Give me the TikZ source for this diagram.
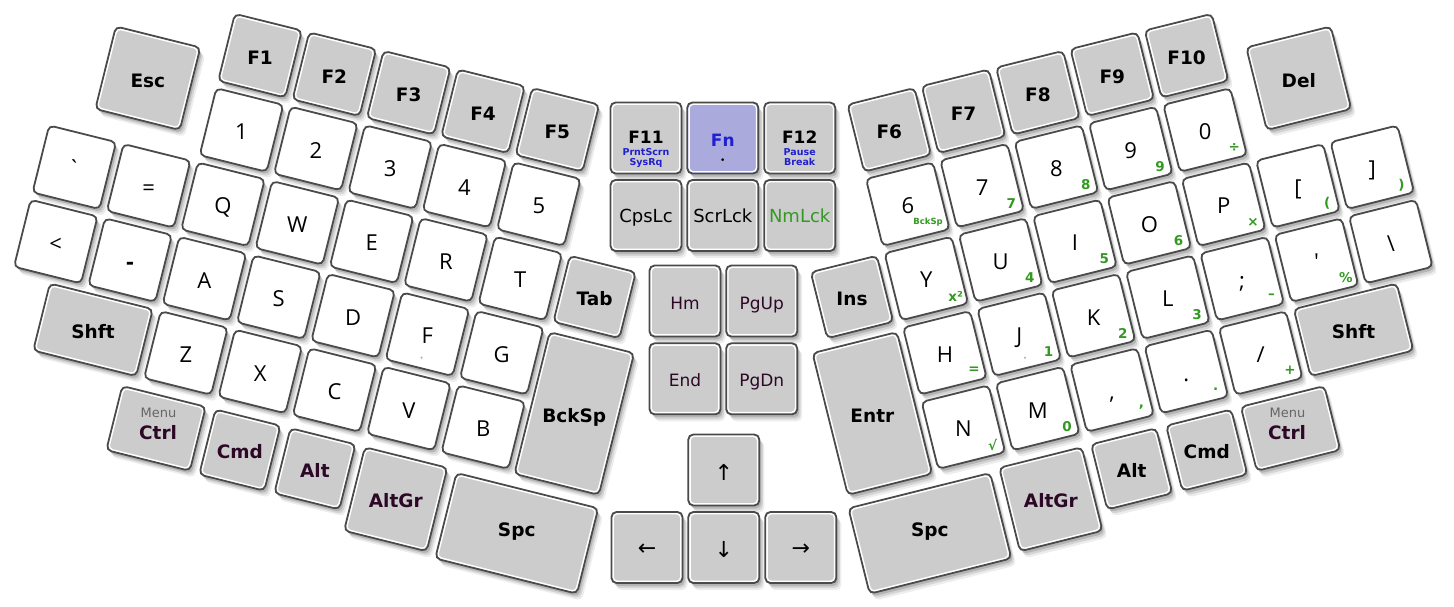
\documentclass[tikz,border=0pt]{standalone}
\usepackage{fontspec}
\setmainfont{DejaVu Sans}
\newfontfamily\keyfont{Open Sans}
\usetikzlibrary{calc,shadows}
\definecolor{kedge}{HTML}{4A4A4A}
\definecolor{kgray}{HTML}{CCCCCC}
\definecolor{kfn}{HTML}{AAAADD}
\definecolor{kpur}{HTML}{2D0826}
\definecolor{kgrn}{HTML}{339922}
\definecolor{kblue}{HTML}{2020D0}
\definecolor{kmenu}{HTML}{666666}
\tikzset{
  kshadow/.style={
    general shadow={fill=black, opacity=0.07, shadow xshift=5pt, shadow yshift=-7pt},
    general shadow={fill=black, opacity=0.10, shadow xshift=3.5pt, shadow yshift=-5pt},
    general shadow={fill=black, opacity=0.15, shadow xshift=2pt, shadow yshift=-3pt}},
  keyb/.style={draw=kedge, line width=1.8pt, rounded corners=5pt, inner sep=0pt, outer sep=0pt,
    minimum width=69pt, minimum height=69pt, kshadow},
  khl/.style={draw=white, line width=1.3pt, rounded corners=4pt, inner sep=0pt, outer sep=0pt},
  lt/.style={font=\keyfont\fontsize{22}{22}\selectfont, anchor=base, yshift=-9.5pt, inner sep=0pt},
  mb/.style={font=\bfseries\fontsize{18.5}{18.5}\selectfont, anchor=base, yshift=-8.8pt, inner sep=0pt},
  gl/.style={font=\bfseries\fontsize{13.5}{13.5}\selectfont, text=kgrn, inner sep=0pt},
  fb/.style={font=\bfseries\fontsize{17}{17}\selectfont, anchor=base, inner sep=0pt},
  sb/.style={font=\bfseries\fontsize{9.5}{9.5}\selectfont, text=kblue, anchor=base, inner sep=0pt},
  ct/.style={font=\fontsize{18}{18}\selectfont, anchor=base, yshift=-6.5pt, inner sep=0pt},
  nv/.style={font=\fontsize{17}{17}\selectfont, text=kpur, anchor=base, yshift=-8pt, inner sep=0pt},
  ar/.style={font=\fontsize{22}{22}\selectfont, yshift=-2pt, inner sep=0pt},
  mn/.style={font=\fontsize{13}{13}\selectfont, text=kmenu, anchor=base, inner sep=0pt},
  bump/.style={circle, fill=gray!60, inner sep=0pt, minimum size=2.4pt}
}
\newcommand\kang{0}
\newcommand\KG[5][kgray]{%
  \node[keyb, fill=#1, rotate=\kang, minimum width=#4pt, minimum height=#5pt] (#2) at #3 {};
  \node[khl, rotate=\kang, minimum width=#4pt-3.6pt, minimum height=#5pt-3.6pt] (#2-h) at (#2.center) {};}
\newcommand\KW[2]{\node[keyb, fill=white, rotate=\kang] (#1) at #2 {};}
\begin{document}
\begin{tikzpicture}[x=1pt, y=-1pt]
\path[fill=white, use as bounding box] (0,0) rectangle (1454,606);

% ---------------- left half ----------------
\begin{scope}[shift={(241.5,130)}, rotate=-14, x=76.6pt, y=-76.6pt]
\renewcommand\kang{-14}
\KG{esc}{(-1.35,-0.36)}{87}{85}
\KG{f1}{(0,-1)}{69}{69}
\KG{f2}{(1,-1)}{69}{69}
\KG{f3}{(2,-1)}{69}{69}
\KG{f4}{(3,-1)}{69}{69}
\KG{f5}{(4,-1)}{69}{69}
\KW{n1}{(0,0)} \KW{n2}{(1,0)} \KW{n3}{(2,0)} \KW{n4}{(3,0)} \KW{n5}{(4,0)}
\KW{lgrave}{(-2,1)} \KW{leq}{(-1,1)}
\KW{kq}{(0,1)} \KW{kw}{(1,1)} \KW{ke}{(2,1)} \KW{kr}{(3,1)} \KW{kt}{(4,1)}
\KG{ltab}{(5,1)}{68}{68}
\KW{llt}{(-2,2)} \KW{lminus}{(-1,2)}
\KW{ka}{(0,2)} \KW{ks}{(1,2)} \KW{kd}{(2,2)} \KW{kf}{(3,2)} \KW{kg}{(4,2)}
\KG{lshift}{(-1.25,3)}{106}{69}
\KW{kz}{(0,3)} \KW{kx}{(1,3)} \KW{kc}{(2,3)} \KW{kv}{(3,3)} \KW{kb}{(4,3)}
\KG{lbsp}{(5.11,2.54)}{87}{146}
\KG{lctrl}{(-0.14,4.05)}{86}{66}
\KG{lcmd}{(0.99,4.06)}{67}{67}
\KG{lalt}{(2.0,4.06)}{67}{67}
\KG{laltgr}{(3.12,4.19)}{85}{86}
\KG{lspc}{(4.76,4.24)}{146}{88}
\end{scope}

% ---------------- centre ----------------
\KG{f11}{(646,138)}{71}{71}
\KG[kfn]{fn}{(722.8,138)}{71}{71}
\KG{f12}{(799.7,138)}{71}{71}
\KG{caps}{(646,215.5)}{71}{71}
\KG{scrl}{(722.8,215.5)}{71}{71}
\KG{numl}{(799.7,215.5)}{71}{71}
\KG{home}{(685,301)}{71}{71}
\KG{pgup}{(761.7,301)}{71}{71}
\KG{kend}{(685,378.8)}{71}{71}
\KG{pgdn}{(761.7,378.8)}{71}{71}
\KG{up}{(723.8,470)}{71}{71}
\KG{left}{(647,547.5)}{71}{71}
\KG{down}{(723.8,547.5)}{71}{71}
\KG{right}{(800.8,547.5)}{71}{71}

% ---------------- right half ----------------
\begin{scope}[shift={(1205.1,130)}, rotate=14, x=-76.6pt, y=-76.6pt]
\renewcommand\kang{14}
\KG{f6}{(4,-1)}{69}{69}
\KG{f7}{(3,-1)}{69}{69}
\KG{f8}{(2,-1)}{69}{69}
\KG{f9}{(1,-1)}{69}{69}
\KG{f10}{(0,-1)}{69}{69}
\KG{del}{(-1.35,-0.36)}{87}{85}
\KW{n6}{(4,0)} \KW{n7}{(3,0)} \KW{n8}{(2,0)} \KW{n9}{(1,0)} \KW{n0}{(0,0)}
\KG{rins}{(5,1)}{68}{68}
\KW{ry}{(4,1)} \KW{ru}{(3,1)} \KW{ri}{(2,1)} \KW{ro}{(1,1)} \KW{rp}{(0,1)}
\KW{rlbr}{(-1,1)} \KW{rrbr}{(-2,1)}
\KW{rh}{(4,2)} \KW{rj}{(3,2)} \KW{rk}{(2,2)} \KW{rl}{(1,2)} \KW{rsemi}{(0,2)}
\KW{rquo}{(-1,2)} \KW{rbsl}{(-2,2)}
\KG{rentr}{(5.11,2.54)}{87}{146}
\KW{rn}{(4,3)} \KW{rm}{(3,3)} \KW{rcom}{(2,3)} \KW{rdot}{(1,3)} \KW{rsl}{(0,3)}
\KG{rshift}{(-1.25,3)}{106}{69}
\KG{rspc}{(4.76,4.24)}{146}{88}
\KG{raltgr}{(3.12,4.19)}{85}{86}
\KG{ralt}{(2.0,4.06)}{67}{67}
\KG{rcmd}{(0.99,4.06)}{67}{67}
\KG{rctrl}{(-0.14,4.05)}{86}{66}
\end{scope}

% ---------------- labels: left ----------------
\node[mb] (esc-t) at (esc) {Esc};
\foreach \n in {1,...,10} {\node[mb] (f\n-t) at (f\n) {F\n};}
\node[fb] (f11-t) at ($(f11)+(0,5)$) {F11};
\node[fb] (f12-t) at ($(f12)+(0,5)$) {F12};
\foreach \n in {1,...,9,0} {\node[lt] (n\n-t) at (n\n) {\n};}
\node[lt] (lgrave-t) at (lgrave) {\char"60};
\node[lt] (leq-t) at (leq) {=};
\node[lt] (llt-t) at (llt) {<};
\node[lt, font=\bfseries\fontsize{20}{20}\selectfont] (lminus-t) at (lminus) {-};
\foreach \k/\l in {kq/Q,kw/W,ke/E,kr/R,kt/T,ka/A,ks/S,kd/D,kf/F,kg/G,kz/Z,kx/X,kc/C,kv/V,kb/B,
  ry/Y,ru/U,ri/I,ro/O,rp/P,rh/H,rj/J,rk/K,rl/L,rn/N,rm/M}
  {\node[lt] (\k-t) at (\k) {\l};}
\node[mb] (ltab-t) at (ltab) {Tab};
\node[mb] (lshift-t) at (lshift) {Shft};
\node[mb] (lbsp-t) at (lbsp) {BckSp};
\node[mn] (lctrl-m) at ($(lctrl)+(2.5,-10.5)$) {Menu};
\node[mb, text=kpur] (lctrl-t) at ($(lctrl)+(2,2)$) {Ctrl};
\node[mb, text=kpur] (lcmd-t) at (lcmd) {Cmd};
\node[mb, text=kpur] (lalt-t) at (lalt) {Alt};
\node[mb, text=kpur] (laltgr-t) at ($(laltgr)+(0,-1)$) {AltGr};
\node[mb] (lspc-t) at ($(lspc)+(0,-5.4)$) {Spc};
\node[bump] (kf-d) at ($(kf.center)!0.7!(kf.south)$) {};

% ---------------- labels: centre ----------------
\node[sb] (f11-a) at ($(f11)+(0,17)$) {PrntScrn};
\node[sb] (f11-b) at ($(f11)+(0,27.5)$) {SysRq};
\node[fb, text=kblue] (fn-t) at ($(fn)+(0,8)$) {Fn};
\node[inner sep=0pt, font=\fontsize{9}{9}\selectfont] (fn-d) at ($(fn)+(0,23)$) {•};
\node[sb] (f12-a) at ($(f12)+(0,17)$) {Pause};
\node[sb] (f12-b) at ($(f12)+(0,27.5)$) {Break};
\node[ct] (caps-t) at (caps) {CpsLc};
\node[ct] (scrl-t) at (scrl) {ScrLck};
\node[ct, text=kgrn] (numl-t) at (numl) {NmLck};
\node[nv] (home-t) at (home) {Hm};
\node[nv] (pgup-t) at (pgup) {PgUp};
\node[nv] (kend-t) at (kend) {End};
\node[nv] (pgdn-t) at (pgdn) {PgDn};
\node[ar] (up-t) at (up) {↑};
\node[ar] (left-t) at (left) {←};
\node[ar] (down-t) at (down) {↓};
\node[ar] (right-t) at (right) {→};

% ---------------- labels: right ----------------
\node[mb] (del-t) at (del) {Del};
\node[lt] (rlbr-t) at (rlbr) {[};
\node[lt] (rrbr-t) at (rrbr) {]};
\node[lt] (rsemi-t) at (rsemi) {;};
\node[lt] (rquo-t) at (rquo) {\char"27};
\node[lt] (rbsl-t) at (rbsl) {\textbackslash};
\node[lt] (rcom-t) at (rcom) {,};
\node[lt] (rdot-t) at (rdot) {.};
\node[lt] (rsl-t) at (rsl) {/};
\node[mb] (rins-t) at (rins) {Ins};
\node[mb] (rentr-t) at (rentr) {Entr};
\node[mb] (rshift-t) at (rshift) {Shft};
\node[mb] (rspc-t) at ($(rspc)+(0,-5.4)$) {Spc};
\node[mb, text=kpur] (raltgr-t) at ($(raltgr)+(0,-1)$) {AltGr};
\node[mb] (ralt-t) at (ralt) {Alt};
\node[mb] (rcmd-t) at (rcmd) {Cmd};
\node[mn] (rctrl-m) at ($(rctrl)+(-3,-10.5)$) {Menu};
\node[mb, text=kpur] (rctrl-t) at ($(rctrl)+(-3.5,2)$) {Ctrl};
\node[bump] (rj-d) at ($(rj.center)!0.7!(rj.south)$) {};
% green secondary legends
\node[gl, font=\bfseries\fontsize{8.5}{8.5}\selectfont] (n6-g) at ($(n6.center)!0.65!($(n6.south)!0.68!(n6.south east)$)$) {BckSp};
\foreach \k/\l in {n7/7,n8/8,n9/9,n0/÷,rlbr/(,rrbr/),ry/x²,ru/4,ri/5,ro/6,rp/×,
  rh/=,rj/1,rk/2,rl/3,rsemi/–,rquo/\%,rsl/+,rdot/.,rcom/{,},rm/0,rn/√}
  {\node[gl] (\k-g) at ($(\k.center)!0.7!(\k.south east)$) {\l};}
\end{tikzpicture}
\end{document}
